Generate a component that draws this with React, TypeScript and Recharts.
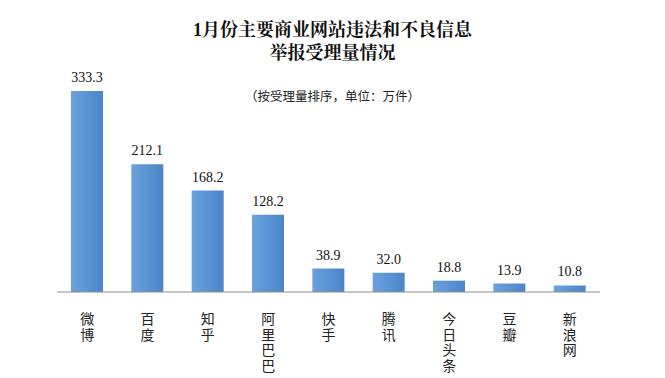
import { BarChart, Bar, XAxis, YAxis, LabelList } from "recharts";

const sites = ["微博", "百度", "知乎", "阿里巴巴", "快手", "腾讯", "今日头条", "豆瓣", "新浪网"];
const reports = [333.3, 212.1, 168.2, 128.2, 38.9, 32.0, 18.8, 13.9, 10.8];

const data = sites.map((name, i) => ({ name, value: reports[i] }));

// category names are stacked one character per line, like the original
const VerticalTick = (props: any) => {
    const { x, y, payload } = props;
    return (
        <text
            x={x}
            y={y + 12}
            textAnchor="start"
            fontSize={14}
            fontFamily="'Noto Sans CJK SC', sans-serif"
            fill="#222"
            style={{ writingMode: "vertical-rl", letterSpacing: 1.5 }}
        >
            {payload.value}
        </text>
    );
};

export default function App() {
    return (
        <div style={{ position: "absolute", left: 0, top: 0, width: 665, height: 378, background: "#fff" }}>
            <div
                style={{
                    position: "absolute",
                    left: 0,
                    top: 19,
                    width: 665,
                    textAlign: "center",
                    fontFamily: "'Liberation Serif', 'Noto Serif CJK SC', 'Noto Sans CJK SC', serif",
                    fontWeight: 700,
                    fontSize: 18,
                    lineHeight: "23px",
                    color: "#111",
                }}
            >
                1月份主要商业网站违法和不良信息
                <br />
                举报受理量情况
            </div>
            <div
                style={{
                    position: "absolute",
                    left: 0,
                    top: 86,
                    width: 665,
                    textAlign: "center",
                    fontFamily: "'Noto Sans CJK SC', sans-serif",
                    fontSize: 12.5,
                    color: "#222",
                }}
            >
                （按受理量排序，单位：万件）
            </div>
            <BarChart
                width={665}
                height={378}
                data={data}
                margin={{ top: 81, right: 65, left: 57, bottom: 0 }}
                style={{ position: "absolute", left: 0, top: 0 }}
            >
                <defs>
                    <linearGradient id="barFill" x1="0" y1="0" x2="1" y2="0">
                        <stop offset="0%" stopColor="#6aa2dc" />
                        <stop offset="50%" stopColor="#5a94d4" />
                        <stop offset="100%" stopColor="#4b85c8" />
                    </linearGradient>
                </defs>
                <XAxis
                    dataKey="name"
                    height={86}
                    interval={0}
                    tickLine={false}
                    axisLine={{ stroke: "#8c8c8c" }}
                    tick={<VerticalTick />}
                />
                <YAxis hide domain={[0, 350]} />
                <Bar dataKey="value" fill="url(#barFill)" barSize={32} isAnimationActive={false}>
                    <LabelList
                        dataKey="value"
                        position="top"
                        offset={9}
                        formatter={(v: any) => Number(v).toFixed(1)}
                        style={{ fontFamily: "'Liberation Serif', serif", fontSize: 14, fill: "#111" }}
                    />
                </Bar>
            </BarChart>
        </div>
    );
}
